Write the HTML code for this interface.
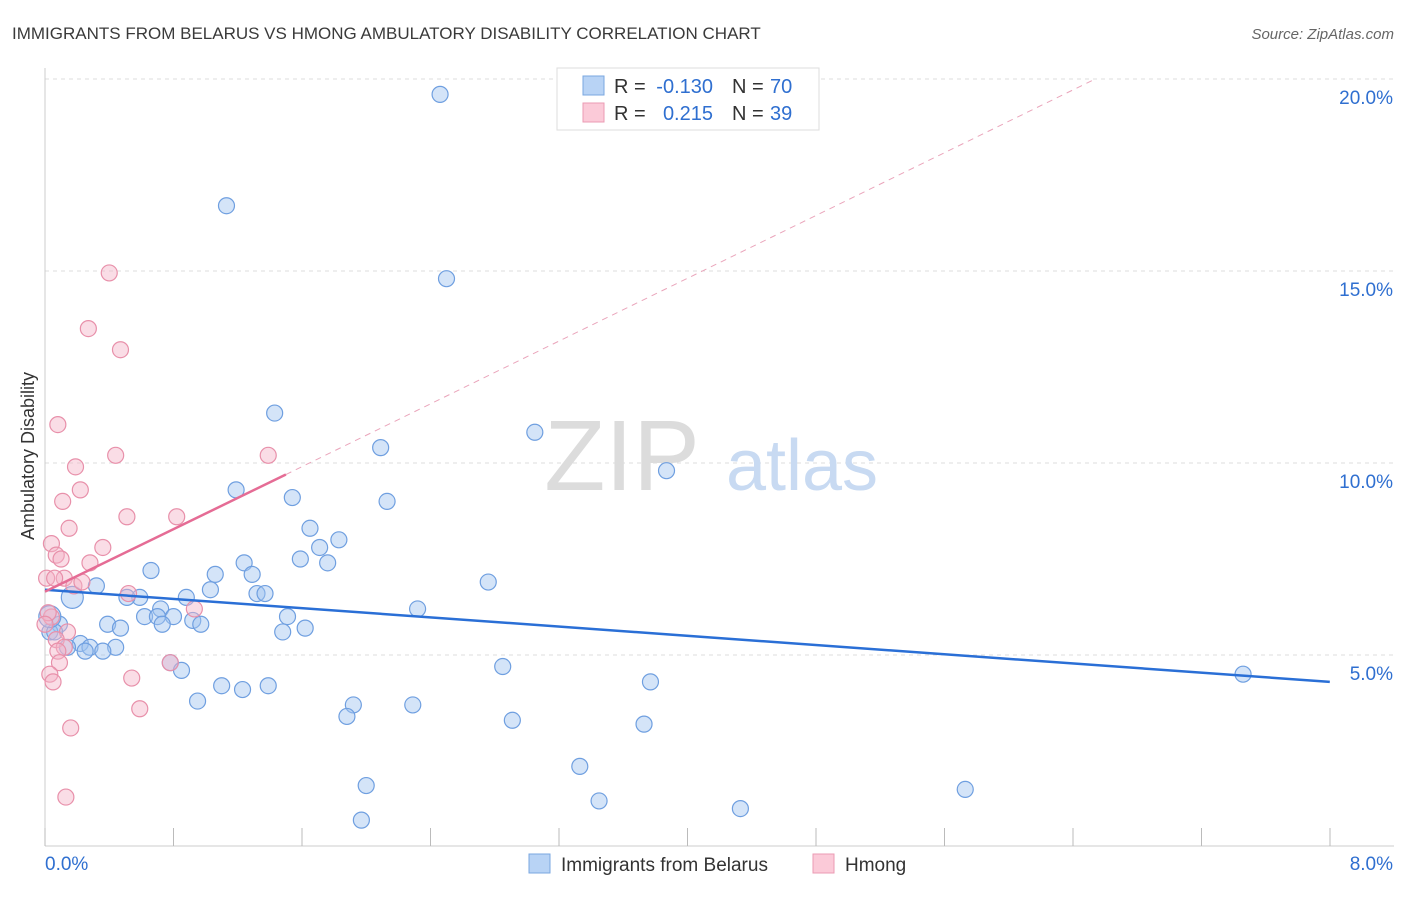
<!DOCTYPE html>
<html><head><meta charset="utf-8"><style>
body{margin:0;background:#fff;font-family:"Liberation Sans",sans-serif;}
svg text{font-family:"Liberation Sans",sans-serif;}
</style></head><body>
<svg width="1406" height="892" xmlns="http://www.w3.org/2000/svg" id="chart">
<text x="12" y="39" font-size="17" fill="#3a3a3a">IMMIGRANTS FROM BELARUS VS HMONG AMBULATORY DISABILITY CORRELATION CHART</text>
<text x="1394" y="39" font-size="15" fill="#666" font-style="italic" text-anchor="end">Source: ZipAtlas.com</text>
<text x="34" y="456" font-size="18" fill="#333" transform="rotate(-90 34 456)" text-anchor="middle">Ambulatory Disability</text>
<g id="grid"></g>
<g id="yticks"></g>
<g id="xticks"></g>
<text x="622" y="490" font-size="100" fill="#dcdcdc" font-family="Liberation Serif" text-anchor="middle">ZIP</text>
<text x="802" y="490" font-size="72" fill="#c8daf2" text-anchor="middle">atlas</text>
<g id="pts"></g>
<g id="lines"></g>
<g>
<rect x="557" y="68" width="262" height="62" fill="#fff" stroke="#ddd"/>
<rect x="583" y="76" width="21" height="19" fill="#b8d3f5" stroke="#7aa7e0"/>
<rect x="583" y="103" width="21" height="19" fill="#fbcad8" stroke="#eb9bb3"/>
<text x="614" y="93" font-size="20" fill="#333">R =</text>
<text x="713" y="93" font-size="20" fill="#2f6fd0" text-anchor="end">-0.130</text>
<text x="732" y="93" font-size="20" fill="#333">N =</text>
<text x="770" y="93" font-size="20" fill="#2f6fd0">70</text>
<text x="614" y="120" font-size="20" fill="#333">R =</text>
<text x="713" y="120" font-size="20" fill="#2f6fd0" text-anchor="end">0.215</text>
<text x="732" y="120" font-size="20" fill="#333">N =</text>
<text x="770" y="120" font-size="20" fill="#2f6fd0">39</text>
</g>
<g>
<rect x="529" y="854" width="21" height="19" fill="#b8d3f5" stroke="#7aa7e0"/>
<text x="561" y="871" font-size="19" fill="#333">Immigrants from Belarus</text>
<rect x="813" y="854" width="21" height="19" fill="#fbcad8" stroke="#eb9bb3"/>
<text x="845" y="871" font-size="19" fill="#333">Hmong</text>
</g>
</svg>
<script>
const blueX=[2.46,1.13,2.50,1.43,3.05,2.09,3.87,1.19,1.54,2.13,1.65,1.71,1.83,1.59,1.76,1.24,0.66,1.06,1.29,2.76,0.32,1.03,1.32,1.37,0.88,0.59,0.51,0.17,2.32,0.72,0.62,0.70,0.80,1.51,0.92,0.97,0.73,0.39,0.47,1.62,1.48,0.09,0.03,0.06,0.22,0.28,0.44,0.25,0.36,0.14,0.78,0.85,2.85,7.46,1.10,1.23,1.39,3.77,0.95,1.92,2.29,1.88,2.91,3.73,3.33,2.00,3.45,5.73,4.33,1.97,0.03];
const blueY=[19.6,16.7,14.8,11.3,10.8,10.4,9.8,9.3,9.1,9.0,8.3,7.8,8.0,7.5,7.4,7.4,7.2,7.1,7.1,6.9,6.8,6.7,6.6,6.6,6.5,6.5,6.5,6.5,6.2,6.2,6.0,6.0,6.0,6.0,5.9,5.8,5.8,5.8,5.7,5.7,5.6,5.8,5.6,5.6,5.3,5.2,5.2,5.1,5.1,5.2,4.8,4.6,4.7,4.5,4.2,4.1,4.2,4.3,3.8,3.7,3.7,3.4,3.3,3.2,2.1,1.6,1.2,1.5,1.0,0.7,6.0];
const pinkX=[0.40,0.27,0.47,0.08,0.44,1.39,0.19,0.22,0.11,0.51,0.82,0.15,0.04,0.07,0.36,0.28,0.10,0.01,0.12,0.06,0.18,0.23,0.52,0.93,0.04,0.14,0.07,0.12,0.08,0.09,0.03,0.05,0.54,0.59,0.16,0.13,0.78,0.02,0.0];
const pinkY=[14.95,13.5,12.95,11.0,10.2,10.2,9.9,9.3,9.0,8.6,8.6,8.3,7.9,7.6,7.8,7.4,7.5,7.0,7.0,7.0,6.8,6.9,6.6,6.2,5.99,5.6,5.4,5.2,5.1,4.8,4.5,4.3,4.4,3.6,3.1,1.3,4.8,6.1,5.8];
const yTicks=[5,10,15,20];
const NS="http://www.w3.org/2000/svg";
const sx=v=>45+v*160.6, sy=v=>847-v*38.4;
function mk(t,a,p){const e=document.createElementNS(NS,t);for(const k in a)e.setAttribute(k,a[k]);document.getElementById(p).appendChild(e);return e;}
yTicks.forEach(t=>{
 const l=mk('line',{x1:45,x2:1394,y1:sy(t),y2:sy(t),stroke:'#ddd','stroke-dasharray':'4,4'},'grid');
 
 
 const tx=mk('text',{x:1393,y:sy(t)+25,'font-size':19,fill:'#2f6fd0','text-anchor':'end'},'yticks');
 tx.textContent=t.toFixed(1)+'%';
 
 
});
mk('line',{x1:45,x2:45,y1:68,y2:846,stroke:'#ccc'},'grid');
mk('line',{x1:45,x2:1394,y1:846,y2:846,stroke:'#ccc'},'grid');
for(let i=0;i<=10;i++){const l=mk('line',{x1:45+i*128.5,x2:45+i*128.5,y1:828,y2:846,stroke:'#bbb'},'xticks');
 
 }
const x0=mk('text',{x:45,y:870,'font-size':19,fill:'#2f6fd0'},'xticks');x0.textContent='0.0%';


const x1=mk('text',{x:1393,y:870,'font-size':19,fill:'#2f6fd0','text-anchor':'end'},'xticks');x1.textContent='8.0%';


blueX.forEach((x,i)=>{const c=mk('circle',{cx:sx(x),cy:sy(blueY[i]),r:(i==27||i==70)?11:8,fill:'rgba(160,195,240,0.45)',stroke:'#6f9fe0','stroke-width':1.2},'pts');
 
 });
pinkX.forEach((x,i)=>{const c=mk('circle',{cx:sx(x),cy:sy(pinkY[i]),r:8,fill:'rgba(245,180,200,0.45)',stroke:'#e890aa','stroke-width':1.2},'pts');
 
 });
const bl=mk('line',{x1:sx(0),y1:sy(6.7),x2:sx(8),y2:sy(4.3),stroke:'#2a6fd6','stroke-width':2.5},'lines');


const pd=mk('line',{x1:sx(1.5),y1:sy(9.7),x2:sx(6.54),y2:sy(20),stroke:'#eaa5bb','stroke-width':1,'stroke-dasharray':'6,5'},'lines');


const pl=mk('line',{x1:sx(0),y1:sy(6.65),x2:sx(1.5),y2:sy(9.7),stroke:'#e56c95','stroke-width':2.5},'lines');


</script>
</body></html>
